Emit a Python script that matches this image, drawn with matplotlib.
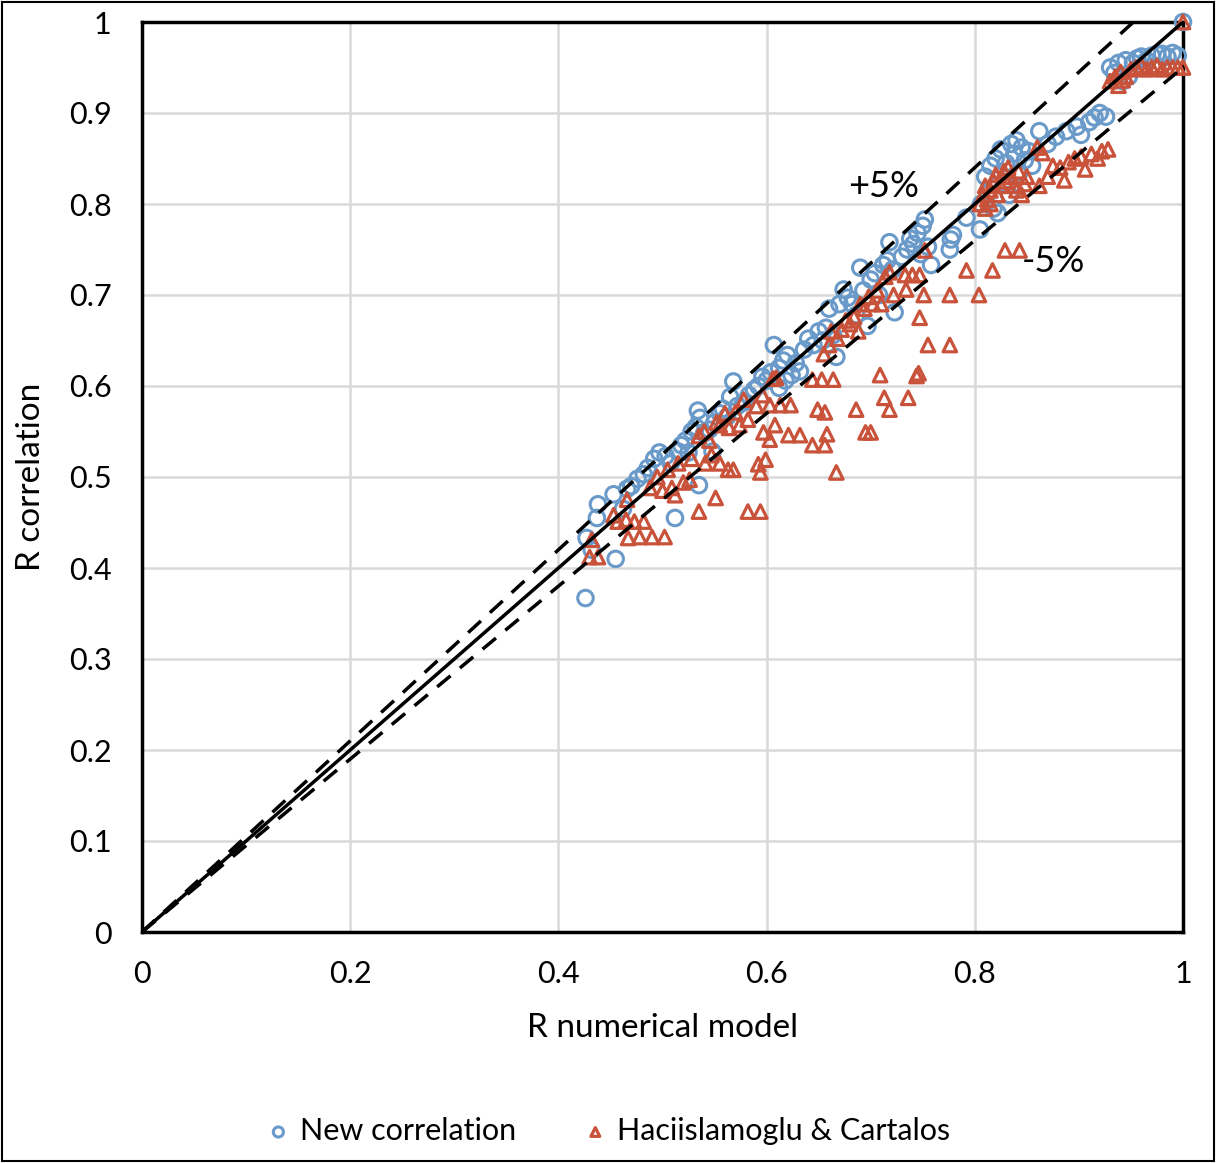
import numpy as np
import matplotlib.pyplot as plt
from matplotlib.patches import Rectangle
from matplotlib.ticker import FuncFormatter, MultipleLocator

plt.rcParams['font.family'] = ['Lato', 'DejaVu Sans']

# New correlation (R numerical model, R correlation)
new_x = [0.426, 0.427, 0.432, 0.437, 0.438, 0.455, 0.453, 0.462, 0.466, 0.470,
         0.476, 0.482, 0.486, 0.492, 0.497, 0.503, 0.508, 0.512, 0.515, 0.518,
         0.522, 0.525, 0.528, 0.532, 0.534, 0.536, 0.535, 0.540, 0.545, 0.548,
         0.550, 0.555, 0.558, 0.562, 0.565, 0.568, 0.572, 0.578, 0.583, 0.588,
         0.592, 0.596, 0.600, 0.604, 0.607, 0.612, 0.612, 0.616, 0.618, 0.620,
         0.624, 0.628, 0.632, 0.636, 0.640, 0.645, 0.650, 0.654, 0.657, 0.660,
         0.664, 0.667, 0.670, 0.674, 0.678, 0.682, 0.686, 0.690, 0.693, 0.697,
         0.700, 0.704, 0.708, 0.712, 0.716, 0.718, 0.721, 0.723, 0.730, 0.735,
         0.738, 0.741, 0.745, 0.748, 0.750, 0.752, 0.755, 0.758, 0.776, 0.777,
         0.779, 0.792, 0.805, 0.806, 0.810, 0.812, 0.815, 0.818, 0.820, 0.822,
         0.825, 0.828, 0.830, 0.833, 0.835, 0.838, 0.840, 0.843, 0.845, 0.848,
         0.852, 0.855, 0.862, 0.870, 0.878, 0.888, 0.898, 0.902, 0.910, 0.915,
         0.920, 0.926, 0.930, 0.934, 0.938, 0.942, 0.945, 0.948, 0.952, 0.956,
         0.960, 0.965, 0.970, 0.975, 0.980, 0.985, 0.990, 0.995, 1.000]
new_y = [0.367, 0.433, 0.420, 0.455, 0.470, 0.410, 0.481, 0.465, 0.487, 0.490,
         0.498, 0.503, 0.510, 0.520, 0.527, 0.523, 0.515, 0.455, 0.528, 0.535,
         0.540, 0.527, 0.550, 0.555, 0.573, 0.565, 0.491, 0.548, 0.552, 0.528,
         0.560, 0.570, 0.575, 0.566, 0.588, 0.605, 0.578, 0.582, 0.590, 0.596,
         0.600, 0.610, 0.606, 0.615, 0.645, 0.620, 0.598, 0.628, 0.606, 0.634,
         0.612, 0.625, 0.616, 0.640, 0.652, 0.645, 0.660, 0.650, 0.664, 0.685,
         0.656, 0.632, 0.690, 0.706, 0.697, 0.690, 0.678, 0.730, 0.705, 0.666,
         0.717, 0.724, 0.700, 0.733, 0.738, 0.758, 0.728, 0.681, 0.742, 0.750,
         0.762, 0.756, 0.768, 0.745, 0.776, 0.783, 0.753, 0.733, 0.750, 0.761,
         0.766, 0.785, 0.772, 0.800, 0.830, 0.812, 0.842, 0.795, 0.850, 0.790,
         0.860, 0.822, 0.845, 0.810, 0.866, 0.855, 0.870, 0.835, 0.862, 0.848,
         0.858, 0.842, 0.880, 0.866, 0.874, 0.880, 0.885, 0.876, 0.890, 0.895,
         0.900, 0.896, 0.950, 0.944, 0.955, 0.935, 0.958, 0.940, 0.955, 0.960,
         0.962, 0.958, 0.963, 0.965, 0.965, 0.962, 0.966, 0.963, 1.000]

# Haciislamoglu & Cartalos
hc_x = [0.430, 0.438, 0.432, 0.453, 0.457, 0.465, 0.466, 0.467, 0.473, 0.478,
        0.482, 0.490, 0.502, 0.488, 0.495, 0.500, 0.505, 0.509, 0.512, 0.515,
        0.520, 0.526, 0.528, 0.535, 0.535, 0.540, 0.541, 0.545, 0.547, 0.551,
        0.552, 0.555, 0.555, 0.560, 0.563, 0.564, 0.568, 0.570, 0.574, 0.578,
        0.582, 0.582, 0.590, 0.592, 0.594, 0.594, 0.596, 0.597, 0.599, 0.603,
        0.603, 0.606, 0.608, 0.609, 0.613, 0.621, 0.623, 0.632, 0.644, 0.644,
        0.649, 0.653, 0.656, 0.656, 0.658, 0.655, 0.660, 0.662, 0.664, 0.667,
        0.668, 0.672, 0.676, 0.680, 0.684, 0.686, 0.688, 0.690, 0.694, 0.695,
        0.698, 0.700, 0.702, 0.706, 0.709, 0.710, 0.713, 0.714, 0.718, 0.718,
        0.722, 0.733, 0.734, 0.736, 0.740, 0.744, 0.746, 0.747, 0.747, 0.751,
        0.752, 0.755, 0.776, 0.776, 0.792, 0.804, 0.817, 0.829, 0.843,
        0.805, 0.808, 0.810, 0.812, 0.815, 0.818, 0.820, 0.822, 0.825, 0.828,
        0.830, 0.832, 0.835, 0.838, 0.840, 0.842, 0.845, 0.848, 0.850, 0.810,
        0.815, 0.860, 0.865, 0.862, 0.870, 0.875, 0.882, 0.886, 0.890, 0.896,
        0.902, 0.906, 0.912, 0.918, 0.922, 0.928,
        0.930, 0.935, 0.938, 0.940, 0.942, 0.945, 0.950, 0.955, 0.960, 0.965,
        0.970, 0.975, 0.980, 0.985, 0.990, 0.995, 1.000, 1.000]
hc_y = [0.412, 0.412, 0.431, 0.458, 0.451, 0.453, 0.475, 0.433, 0.451, 0.434,
        0.451, 0.434, 0.434, 0.488, 0.500, 0.485, 0.508, 0.488, 0.480, 0.515,
        0.494, 0.497, 0.520, 0.462, 0.545, 0.550, 0.515, 0.540, 0.524, 0.477,
        0.560, 0.515, 0.557, 0.570, 0.508, 0.554, 0.508, 0.571, 0.557, 0.585,
        0.462, 0.563, 0.578, 0.514, 0.462, 0.505, 0.590, 0.549, 0.519, 0.541,
        0.579, 0.608, 0.557, 0.609, 0.579, 0.546, 0.579, 0.546, 0.535, 0.607,
        0.574, 0.607, 0.535, 0.571, 0.547, 0.635, 0.645, 0.660, 0.607, 0.505,
        0.652, 0.662, 0.672, 0.668, 0.676, 0.574, 0.660, 0.690, 0.685, 0.549,
        0.698, 0.549, 0.690, 0.705, 0.612, 0.690, 0.587, 0.720, 0.574, 0.725,
        0.700, 0.722, 0.706, 0.587, 0.722, 0.611, 0.614, 0.675, 0.722, 0.700,
        0.749, 0.645, 0.645, 0.700, 0.727, 0.700, 0.727, 0.749, 0.749,
        0.800, 0.810, 0.820, 0.805, 0.815, 0.825, 0.832, 0.810, 0.820, 0.836,
        0.825, 0.840, 0.830, 0.820, 0.815, 0.836, 0.810, 0.822, 0.830, 0.795,
        0.800, 0.862, 0.856, 0.820, 0.830, 0.842, 0.840, 0.826, 0.846, 0.850,
        0.852, 0.838, 0.855, 0.850, 0.858, 0.860,
        0.935, 0.940, 0.930, 0.945, 0.936, 0.940, 0.948, 0.950, 0.952, 0.948,
        0.950, 0.952, 0.948, 0.950, 0.950, 0.950, 0.950, 1.000]

band = 0.05  # +/- 5% envelope

blue = '#6A9AC9'
red = '#C9523A'

fig = plt.figure(figsize=(12.16, 11.63), dpi=100)
ax = fig.add_axes([142/1216, 1 - 932/1163, (1183 - 142)/1216, (932 - 22)/1163])

ax.scatter(new_x, new_y, s=125, marker='o', facecolors='none', clip_on=False,
           edgecolors=blue, linewidths=2.2, label='New correlation', zorder=3)
ax.scatter(hc_x, hc_y, s=95, marker='^', facecolors='none', clip_on=False,
           edgecolors=red, linewidths=2.3, label='Haciislamoglu & Cartalos', zorder=4)

xx = np.array([0, 1])
ax.plot(xx, xx, 'k-', lw=2.5, zorder=5)
ax.plot([0, 1/(1 + band)], [0, 1], 'k--', lw=2.5, dashes=(5, 3.5), zorder=5)
ax.plot(xx, (1 - band)*xx, 'k--', lw=2.5, dashes=(5, 3.5), zorder=5)

ax.text(0.678, 0.819, '+5%', fontsize=26, ha='left', va='center', zorder=6)
ax.text(0.845, 0.737, '-5%', fontsize=26, ha='left', va='center', zorder=6)

ax.set_xlim(0, 1)
ax.set_ylim(0, 1)
ax.xaxis.set_major_locator(MultipleLocator(0.2))
ax.yaxis.set_major_locator(MultipleLocator(0.1))
fmt = FuncFormatter(lambda v, p: f'{v:g}')
ax.xaxis.set_major_formatter(fmt)
ax.yaxis.set_major_formatter(fmt)
ax.tick_params(length=0, labelsize=22)
ax.tick_params(axis='y', pad=22)
ax.tick_params(axis='x', pad=20)
ax.grid(True, color='#D9D9D9', lw=1.8)
ax.set_axisbelow(True)
for sp in ax.spines.values():
    sp.set_linewidth(2.5)
    sp.set_color('black')

ax.set_xlabel('R numerical model', fontsize=24, labelpad=18)
ax.set_ylabel('R correlation', fontsize=24, labelpad=16)

fig.legend(loc='center', bbox_to_anchor=(0.5, 1 - 1131/1163), ncol=2,
           frameon=False, fontsize=22, markerscale=0.65, handlelength=0.8,
           handletextpad=0.3, columnspacing=2.2)

fig.patches.append(Rectangle((0.002, 0.002), 0.996, 0.996, transform=fig.transFigure,
                             fill=False, edgecolor='black', lw=1.5))

fig.savefig('out.png', dpi=100)
